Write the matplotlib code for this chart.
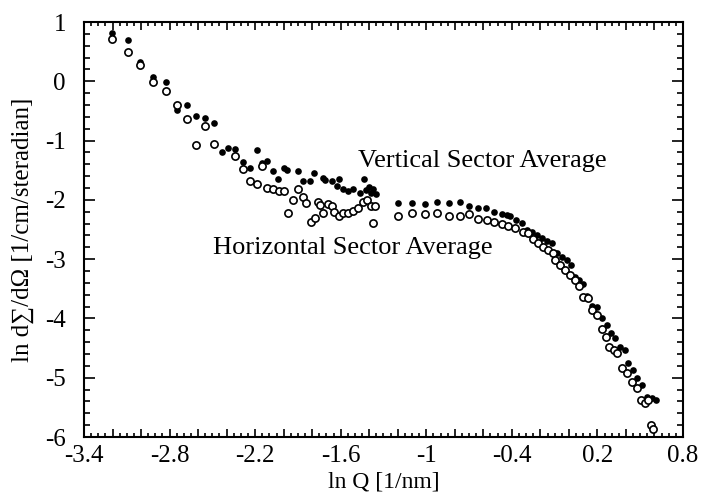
import numpy as np
import matplotlib
matplotlib.use("Agg")
import matplotlib.pyplot as plt
from matplotlib.ticker import MultipleLocator

plt.rcParams['font.family'] = ['Liberation Serif', 'DejaVu Serif']

# Vertical sector average (filled circles)
x_vert = [-3.206, -3.089, -3.007, -2.914, -2.825, -2.746, -2.680, -2.615, -2.551, -2.488,
          -2.434, -2.388, -2.341, -2.283, -2.236, -2.189, -2.154, -2.115, -2.073, -2.037,
          -1.997, -1.974, -1.897, -1.862, -1.815, -1.785, -1.726, -1.710, -1.663, -1.628,
          -1.612, -1.582, -1.547, -1.511, -1.465, -1.440, -1.420, -1.400, -1.390, -1.375,
          -1.355, -1.196, -1.102, -1.009, -0.922, -0.840, -0.763, -0.698, -0.635, -0.581,
          -0.525, -0.471, -0.436, -0.413, -0.371, -0.331, -0.296, -0.260, -0.225, -0.190,
          -0.155, -0.120, -0.085, -0.050, -0.015, 0.013, 0.043, 0.073, 0.101, 0.125,
          0.160, 0.195, 0.230, 0.266, 0.294, 0.324, 0.359, 0.394, 0.417, 0.452,
          0.480, 0.511, 0.546, 0.581, 0.611]
y_vert = [0.81, 0.69, 0.33, 0.07, -0.02, -0.48, -0.40, -0.59, -0.62, -0.70,
          -1.19, -1.13, -1.15, -1.36, -1.47, -1.16, -1.38, -1.34, -1.51, -1.65,
          -1.46, -1.50, -1.51, -1.69, -1.68, -1.54, -1.63, -1.66, -1.69, -1.77,
          -1.65, -1.82, -1.85, -1.82, -1.89, -1.64, -1.83, -1.78, -1.89, -1.82,
          -1.90, -2.05, -2.05, -2.07, -2.04, -2.05, -2.04, -2.10, -2.13, -2.14,
          -2.20, -2.24, -2.26, -2.28, -2.34, -2.39, -2.51, -2.54, -2.59, -2.65,
          -2.69, -2.72, -2.89, -2.96, -3.01, -3.10, -3.30, -3.35, -3.42, -3.63,
          -3.79, -3.81, -4.00, -4.11, -4.24, -4.33, -4.48, -4.53, -4.76, -4.87,
          -5.01, -5.12, -5.33, -5.35, -5.37]

# Horizontal sector average (open circles)
x_horz = [-3.206, -3.089, -3.007, -2.914, -2.825, -2.746, -2.680, -2.615, -2.551, -2.488,
          -2.341, -2.283, -2.236, -2.189, -2.154, -2.115, -2.073, -2.033, -1.995, -1.967,
          -1.932, -1.897, -1.862, -1.843, -1.810, -1.780, -1.757, -1.745, -1.722, -1.687,
          -1.663, -1.645, -1.610, -1.582, -1.547, -1.511, -1.476, -1.446, -1.418, -1.390,
          -1.375, -1.359, -1.196, -1.102, -1.009, -0.922, -0.840, -0.763, -0.698, -0.635,
          -0.576, -0.525, -0.471, -0.424, -0.378, -0.320, -0.284, -0.249, -0.214, -0.183,
          -0.144, -0.109, -0.097, -0.062, -0.027, 0.008, 0.043, 0.073, 0.101, 0.136,
          0.160, 0.195, 0.230, 0.261, 0.284, 0.317, 0.340, 0.371, 0.406, 0.441,
          0.476, 0.504, 0.535, 0.558, 0.575, 0.593]
y_horz = [0.71, 0.49, 0.27, -0.02, -0.16, -0.40, -0.64, -1.07, -0.75, -1.05,
          -1.26, -1.48, -1.69, -1.73, -1.43, -1.80, -1.82, -1.85, -1.85, -2.22,
          -2.01, -1.82, -1.96, -2.06, -2.37, -2.31, -2.03, -2.09, -2.22, -2.07,
          -2.10, -2.20, -2.27, -2.23, -2.22, -2.19, -2.14, -2.03, -2.00, -2.10,
          -2.39, -2.10, -2.27, -2.23, -2.24, -2.23, -2.27, -2.28, -2.24, -2.32,
          -2.34, -2.37, -2.40, -2.44, -2.47, -2.54, -2.56, -2.66, -2.73, -2.79,
          -2.84, -2.90, -3.01, -3.10, -3.18, -3.27, -3.35, -3.46, -3.64, -3.66,
          -3.86, -3.94, -4.17, -4.31, -4.48, -4.53, -4.59, -4.84, -4.92, -5.08,
          -5.18, -5.37, -5.43, -5.37, -5.80, -5.87]

x_tick_labels = ["-3.4", "-2.8", "-2.2", "-1.6", "-1", "-0.4", "0.2", "0.8"]
y_tick_labels = ["-6", "-5", "-4", "-3", "-2", "-1", "0", "1"]

fig = plt.figure(figsize=(7.01, 4.96), dpi=100)
ax = fig.add_axes([84/701, 1 - 437/496, (683 - 84)/701, (437 - 22)/496])

ax.plot(x_vert, y_vert, 'o', color='black', ms=4.8, mew=0)
ax.plot(x_horz, y_horz, 'o', mfc='white', mec='black', ms=5.2, mew=1.2)

ax.set_xlim(-3.4, 0.8)
ax.set_ylim(-6, 1)

# long ticks every 0.2, labels every 0.6
xt = np.arange(-3.4, 0.81, 0.2)
lab = {round(float(v), 1): v for v in x_tick_labels}
ax.set_xticks(xt)
ax.set_xticklabels([lab.get(round(float(v), 1), "") for v in xt])
ax.xaxis.set_minor_locator(MultipleLocator(0.05))
ax.set_yticks([float(v) for v in y_tick_labels])
ax.set_yticklabels(y_tick_labels)
ax.yaxis.set_minor_locator(MultipleLocator(0.2))

ax.tick_params(which='both', direction='in', top=True, right=True, width=1.2,
               labelsize=18, colors='black')
ax.tick_params(axis='x', which='major', length=6, pad=6)
ax.tick_params(axis='x', which='minor', length=3)
ax.tick_params(axis='y', which='major', length=8, pad=13)
ax.tick_params(axis='y', which='minor', length=4)
for s in ax.spines.values():
    s.set_linewidth(1.5)

ax.set_xlabel("ln Q [1/nm]", fontsize=17, labelpad=3)
ax.set_ylabel("ln d∑/dΩ [1/cm/steradian]", fontsize=18, labelpad=8)

ax.text(-1.479, -1.35, "Vertical Sector Average", fontsize=19, ha='left', va='center')
ax.text(-2.495, -2.82, "Horizontal Sector Average", fontsize=19, ha='left', va='center')

plt.savefig("out.png", dpi=100)
